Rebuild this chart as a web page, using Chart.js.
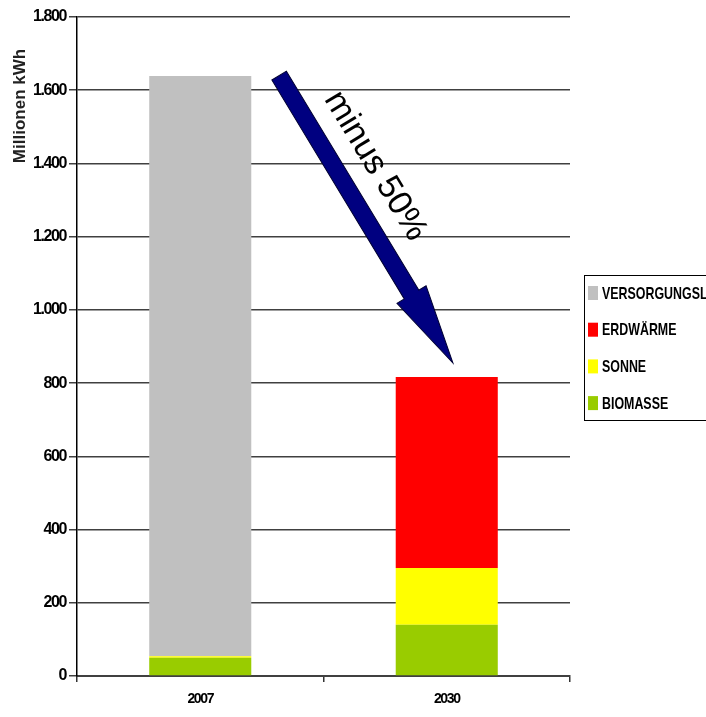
<!DOCTYPE html>
<html>
<head>
<meta charset="utf-8">
<script src="https://cdn.jsdelivr.net/npm/chart.js@4/dist/chart.umd.min.js"></script>
<style>
  html, body { margin: 0; padding: 0; background: #fff; }
</style>
</head>
<body>
<canvas id="bar-chart" width="706" height="717"></canvas>
<script>
// Wärmebedarf in Millionen kWh, gestapelt nach Quelle
var years = ['2007', '2030'];
var biomasse = [50, 140];
var sonne = [4, 155];
var erdwaerme = [0, 522];
var versorgungsluecke = [1585, 0];

var seriesNames = ['BIOMASSE', 'SONNE', 'ERDWÄRME', 'VERSORGUNGSLÜCKE'];
var seriesColors = ['#99cc00', '#ffff00', '#ff0000', '#c0c0c0'];

var yMax = 1800;
var yStep = 200;

// Pfeil von der Spitze 2007 zur Spitze 2030 (x = Kategorie-Index, y = Wert)
var arrowFrom = { x: 0.32, y: 1640 };
var arrowTo = { x: 1.025, y: 855 };
var arrowLabel = 'minus 50%';
var arrowLabelAt = { x: 0.71, y: 1393 };

var sans = "Arial, 'Liberation Sans', sans-serif";

function deNumber(v) {
  return String(v).replace(/\B(?=(\d{3})+(?!\d))/g, '.');
}

var datasets = [biomasse, sonne, erdwaerme, versorgungsluecke].map(function (vals, i) {
  return {
    label: seriesNames[i],
    data: vals,
    backgroundColor: seriesColors[i],
    borderWidth: 0,
    barPercentage: 0.414,
    categoryPercentage: 1.0
  };
});

var extras = {
  id: 'extras',
  beforeDraw: function (chart) {
    // enge Achsenbeschriftung
    chart.ctx.letterSpacing = '-1.4px';
  },
  afterDatasetsDraw: function (chart) {
    var ctx = chart.ctx;
    var xs = chart.scales.x, ys = chart.scales.y;
    ctx.letterSpacing = '0px';

    // Pfeil
    var x0 = xs.getPixelForValue(arrowFrom.x), y0 = ys.getPixelForValue(arrowFrom.y);
    var x1 = xs.getPixelForValue(arrowTo.x), y1 = ys.getPixelForValue(arrowTo.y);
    var len = Math.hypot(x1 - x0, y1 - y0);
    var ang = Math.atan2(y1 - y0, x1 - x0);
    var shaft = 8.5, head = 17, headLen = 80;
    ctx.save();
    ctx.translate(x0, y0);
    ctx.rotate(ang);
    ctx.beginPath();
    ctx.moveTo(0, -shaft);
    ctx.lineTo(len - headLen, -shaft);
    ctx.lineTo(len - headLen, -head);
    ctx.lineTo(len, 0);
    ctx.lineTo(len - headLen, head);
    ctx.lineTo(len - headLen, shaft);
    ctx.lineTo(0, shaft);
    ctx.closePath();
    ctx.fillStyle = '#000080';
    ctx.fill();
    ctx.lineWidth = 1;
    ctx.strokeStyle = '#000033';
    ctx.stroke();
    ctx.restore();

    // Beschriftung am Pfeil
    ctx.save();
    ctx.translate(xs.getPixelForValue(arrowLabelAt.x), ys.getPixelForValue(arrowLabelAt.y));
    ctx.rotate(ang);
    ctx.font = '34px ' + sans;
    ctx.fillStyle = '#000';
    ctx.textAlign = 'center';
    ctx.textBaseline = 'middle';
    ctx.fillText(arrowLabel, 0, 0);
    ctx.restore();
  },
  afterDraw: function (chart) {
    var ctx = chart.ctx;
    var area = chart.chartArea;
    ctx.letterSpacing = '0px';

    // Achsentitel oben links
    ctx.save();
    ctx.translate(20, 106);
    ctx.rotate(-Math.PI / 2);
    ctx.font = 'bold 17px ' + sans;
    ctx.fillStyle = '#222';
    ctx.textAlign = 'center';
    ctx.textBaseline = 'middle';
    ctx.fillText('Millionen kWh', 0, 0);
    ctx.restore();

    // Legende mit Rahmen, rechts abgeschnitten
    var lx = area.right + 14, ly = 275, lh = 145;
    ctx.save();
    ctx.strokeStyle = '#000';
    ctx.lineWidth = 1;
    ctx.strokeRect(lx + 0.5, ly + 0.5, 300, lh);
    ctx.font = 'bold 17px ' + sans;
    ctx.textBaseline = 'middle';
    var ds = chart.data.datasets;
    for (var k = 0; k < ds.length; k++) {
      var item = ds[ds.length - 1 - k];
      var cy = ly + 18 + k * 36.7;
      ctx.fillStyle = item.backgroundColor;
      ctx.fillRect(lx + 4, cy - 7, 10, 14);
      ctx.save();
      ctx.translate(lx + 18, cy + 1);
      ctx.scale(0.73, 1);
      ctx.fillStyle = '#000';
      ctx.fillText(item.label, 0, 0);
      ctx.restore();
    }
    ctx.restore();
  }
};

new Chart(document.getElementById('bar-chart'), {
  type: 'bar',
  data: { labels: years, datasets: datasets },
  plugins: [extras],
  options: {
    responsive: false,
    animation: false,
    devicePixelRatio: 1,
    layout: { padding: { top: 17, right: 136, left: 0, bottom: 0 } },
    plugins: {
      legend: { display: false },
      tooltip: { enabled: false }
    },
    scales: {
      x: {
        stacked: true,
        grid: {
          offset: true,
          drawOnChartArea: false,
          color: '#333',
          lineWidth: 1.5,
          tickLength: 6
        },
        border: { color: '#404040', width: 2 },
        ticks: {
          color: '#000',
          font: { family: sans, size: 14, weight: 'bold' },
          padding: 9
        },
        afterFit: function (s) { s.height = 41; }
      },
      y: {
        stacked: true,
        min: 0,
        max: yMax,
        grid: {
          color: '#404040',
          lineWidth: 1.5,
          tickLength: 8
        },
        border: { color: '#000', width: 1.5 },
        ticks: {
          stepSize: yStep,
          color: '#000',
          font: { family: sans, size: 16, weight: 'bold' },
          padding: 3,
          callback: function (v) { return deNumber(v); }
        },
        afterFit: function (s) { s.width = 77; }
      }
    }
  }
});
</script>
</body>
</html>
